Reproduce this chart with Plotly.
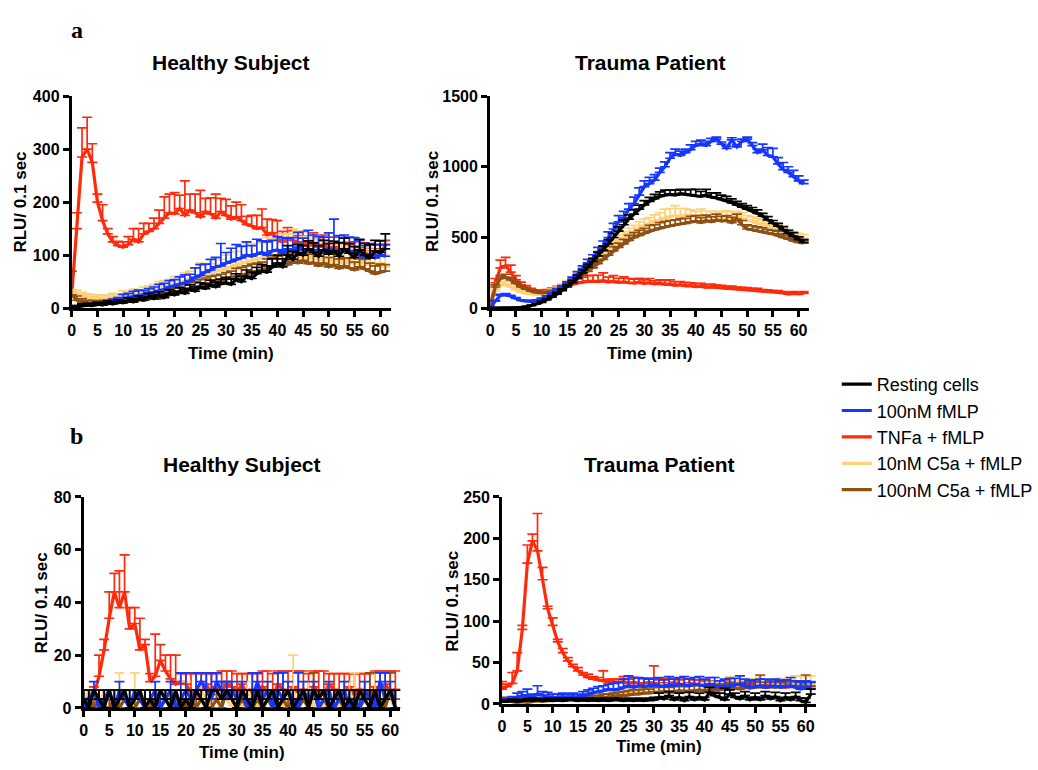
import plotly.graph_objects as go

# ---------------------------------------------------------------- data
TIME = [0, 1, 2, 3, 4, 5, 6, 7, 8, 9,
        10, 11, 12, 13, 14, 15, 16, 17, 18, 19,
        20, 21, 22, 23, 24, 25, 26, 27, 28, 29,
        30, 31, 32, 33, 34, 35, 36, 37, 38, 39,
        40, 41, 42, 43, 44, 45, 46, 47, 48, 49,
        50, 51, 52, 53, 54, 55, 56, 57, 58, 59,
        60, 61]

SERIES_NAMES = ["Resting cells", "100nM fMLP", "TNFa + fMLP", "10nM C5a + fMLP", "100nM C5a + fMLP"]

# ---- (a) Healthy subject, RLU / 0.1 sec
a_healthy_rest = [0, 3, 5, 6, 5, 8, 6, 10, 8, 12,
                  10, 14, 12, 18, 15, 22, 18, 25, 20, 28,
                  25, 32, 28, 36, 32, 40, 37, 44, 40, 46,
                  48, 45, 55, 50, 60, 56, 65, 70, 68, 78,
                  85, 78, 100, 92, 105, 100, 112, 105, 98, 110,
                  102, 108, 98, 112, 104, 96, 110, 100, 95, 108,
                  105, 112]
a_healthy_rest_err = [2, 2, 3, 3, 3, 3, 3, 4, 4, 4,
                      4, 5, 5, 5, 5, 6, 6, 6, 6, 7,
                      7, 7, 8, 8, 8, 8, 9, 9, 9, 9,
                      10, 10, 10, 10, 12, 12, 12, 12, 12, 15,
                      15, 15, 18, 15, 15, 18, 15, 18, 20, 18,
                      20, 18, 25, 20, 18, 20, 20, 22, 25, 20,
                      22, 28]
a_healthy_fmlp = [2, 3, 4, 5, 6, 7, 8, 10, 12, 14,
                  18, 20, 22, 24, 25, 27, 30, 33, 35, 40,
                  42, 45, 48, 52, 58, 62, 68, 72, 78, 80,
                  85, 88, 92, 95, 100, 98, 102, 105, 100, 108,
                  110, 105, 112, 108, 115, 110, 112, 108, 110, 106,
                  112, 108, 105, 110, 104, 108, 100, 96, 102, 95,
                  100, 98]
a_healthy_fmlp_err = [2, 2, 3, 3, 3, 4, 4, 5, 5, 6,
                      8, 8, 10, 10, 8, 10, 10, 12, 12, 12,
                      12, 14, 15, 12, 18, 20, 15, 20, 18, 42,
                      20, 25, 28, 22, 25, 20, 28, 22, 25, 20,
                      25, 28, 20, 25, 28, 22, 35, 30, 25, 28,
                      30, 60, 32, 28, 30, 25, 28, 22, 20, 25,
                      20, 22]
a_healthy_tnf = [25, 150, 285, 300, 275, 200, 165, 140, 125, 118,
                 115, 120, 130, 125, 140, 145, 150, 160, 170, 180,
                 178, 188, 175, 185, 180, 172, 182, 178, 170, 182,
                 175, 168, 172, 165, 158, 155, 150, 152, 138, 142,
                 130, 125, 132, 128, 122, 125, 118, 122, 115, 120,
                 112, 116, 108, 112, 105, 110, 102, 108, 95, 110,
                 100, 120]
a_healthy_tnf_err = [5, 30, 55, 60, 35, 15, 30, 10, 10, 8,
                     10, 15, 20, 25, 20, 15, 20, 25, 40, 35,
                     40, 25, 65, 30, 35, 50, 25, 30, 45, 25,
                     30, 25, 28, 30, 15, 20, 25, 35, 30, 25,
                     35, 20, 20, 18, 15, 20, 18, 20, 15, 18,
                     15, 18, 15, 12, 15, 15, 12, 15, 18, 10,
                     12, 8]
a_healthy_c5a10 = [30, 28, 25, 22, 20, 20, 18, 20, 22, 20,
                   25, 22, 28, 25, 30, 32, 35, 38, 40, 42,
                   45, 48, 52, 55, 58, 60, 62, 66, 70, 72,
                   75, 78, 82, 85, 88, 90, 92, 95, 98, 100,
                   98, 102, 100, 104, 98, 95, 100, 92, 96, 90,
                   94, 88, 92, 85, 90, 84, 88, 82, 86, 80,
                   85, 78]
a_healthy_c5a10_err = [5, 6, 5, 5, 6, 5, 6, 5, 6, 6,
                       8, 8, 8, 10, 10, 10, 10, 12, 12, 12,
                       15, 12, 15, 15, 18, 25, 20, 18, 22, 20,
                       25, 28, 25, 30, 35, 32, 30, 28, 35, 30,
                       35, 38, 40, 45, 48, 40, 35, 38, 30, 35,
                       30, 32, 28, 30, 25, 28, 30, 25, 28, 30,
                       25, 22]
a_healthy_c5a100 = [25, 15, 12, 10, 10, 8, 10, 8, 12, 10,
                    12, 14, 12, 16, 15, 18, 20, 18, 22, 25,
                    28, 30, 35, 38, 40, 42, 45, 48, 50, 52,
                    55, 58, 60, 62, 65, 68, 70, 72, 75, 78,
                    80, 85, 82, 88, 85, 90, 84, 86, 80, 85,
                    78, 82, 75, 80, 76, 72, 78, 74, 70, 65,
                    68, 70]
a_healthy_c5a100_err = [45, 8, 6, 5, 5, 5, 5, 5, 5, 5,
                        5, 6, 6, 6, 6, 8, 8, 8, 8, 8,
                        10, 10, 10, 10, 10, 12, 12, 12, 12, 12,
                        12, 12, 15, 15, 15, 15, 15, 15, 18, 18,
                        18, 18, 20, 18, 20, 20, 18, 20, 18, 20,
                        18, 20, 18, 15, 18, 15, 15, 18, 15, 15,
                        15, 12]

# ---- (a) Trauma patient
a_trauma_rest = [0, 0, 2, 3, 3, 4, 5, 10, 18, 30,
                 42, 58, 78, 100, 125, 150, 180, 215, 250, 290,
                 330, 370, 410, 455, 500, 545, 590, 630, 665, 700,
                 730, 755, 775, 790, 800, 805, 800, 810, 805, 800,
                 795, 790, 800, 785, 780, 770, 760, 745, 730, 715,
                 700, 690, 670, 650, 625, 600, 580, 555, 530, 510,
                 485, 465]
a_trauma_rest_err = [2, 2, 2, 2, 2, 2, 3, 3, 4, 5,
                     6, 8, 10, 12, 12, 15, 15, 18, 20, 20,
                     22, 25, 28, 30, 30, 30, 32, 30, 30, 28,
                     30, 28, 30, 32, 35, 30, 35, 30, 32, 40,
                     45, 35, 40, 30, 35, 30, 30, 28, 25, 25,
                     25, 22, 25, 20, 22, 20, 20, 22, 20, 25,
                     20, 20]
a_trauma_fmlp = [0, 50, 90, 95, 85, 70, 55, 50, 48, 55,
                 65, 80, 100, 125, 150, 175, 205, 240, 280, 320,
                 350, 400, 440, 500, 560, 610, 640, 700, 740, 800,
                 860, 880, 905, 960, 1000, 1060, 1090, 1080, 1100, 1120,
                 1150, 1160, 1150, 1180, 1195, 1160, 1130, 1190, 1140, 1180,
                 1195, 1150, 1100, 1120, 1080, 1070, 1020, 980, 960, 930,
                 900, 880]
a_trauma_fmlp_err = [2, 5, 8, 8, 6, 5, 5, 5, 5, 5,
                     6, 8, 8, 10, 10, 12, 15, 18, 20, 25,
                     28, 30, 35, 40, 40, 45, 45, 40, 45, 50,
                     40, 45, 40, 30, 35, 40, 35, 30, 25, 35,
                     30, 28, 25, 20, 15, 15, 15, 15, 15, 15,
                     15, 20, 25, 40, 55, 60, 45, 50, 40, 45,
                     35, 25]
a_trauma_tnf = [10, 180, 285, 300, 255, 200, 165, 145, 130, 120,
                118, 122, 130, 140, 150, 160, 170, 178, 185, 190,
                192, 188, 195, 185, 190, 182, 186, 180, 178, 182,
                176, 180, 172, 175, 168, 170, 162, 166, 158, 160,
                152, 155, 148, 150, 145, 142, 140, 138, 135, 132,
                130, 128, 125, 120, 118, 115, 112, 108, 100, 105,
                102, 105]
a_trauma_tnf_err = [5, 30, 55, 60, 50, 30, 20, 15, 10, 10,
                    10, 10, 12, 15, 15, 20, 25, 30, 35, 40,
                    40, 45, 55, 35, 40, 30, 35, 30, 28, 30,
                    25, 30, 22, 25, 28, 30, 25, 22, 25, 20,
                    22, 20, 18, 20, 18, 20, 15, 18, 15, 15,
                    15, 12, 15, 12, 12, 10, 12, 10, 10, 12,
                    10, 12]
a_trauma_c5a10 = [0, 120, 160, 170, 150, 130, 115, 105, 100, 98,
                  100, 110, 125, 140, 160, 180, 205, 230, 260, 290,
                  320, 350, 385, 420, 450, 480, 500, 525, 545, 565,
                  585, 600, 615, 625, 640, 650, 655, 650, 660, 655,
                  650, 660, 650, 645, 650, 640, 645, 640, 650, 635,
                  620, 615, 600, 595, 580, 570, 560, 545, 530, 515,
                  505, 495]
a_trauma_c5a10_err = [2, 15, 20, 20, 15, 10, 8, 8, 6, 6,
                      6, 8, 10, 10, 12, 15, 18, 20, 22, 25,
                      28, 30, 32, 35, 38, 40, 40, 42, 40, 45,
                      45, 40, 45, 50, 60, 55, 70, 55, 45, 40,
                      35, 40, 35, 40, 35, 40, 45, 40, 35, 40,
                      35, 30, 35, 30, 30, 28, 30, 25, 28, 25,
                      25, 25]
a_trauma_c5a100 = [0, 150, 210, 220, 200, 175, 150, 135, 120, 112,
                   108, 110, 118, 130, 145, 165, 185, 210, 235, 260,
                   285, 315, 345, 375, 405, 430, 455, 480, 500, 515,
                   530, 545, 555, 565, 575, 580, 590, 595, 600, 610,
                   615, 605, 620, 610, 625, 615, 620, 605, 630, 590,
                   560, 555, 545, 540, 530, 525, 515, 500, 490, 475,
                   465, 460]
a_trauma_c5a100_err = [2, 15, 20, 20, 15, 12, 10, 8, 8, 8,
                       8, 8, 8, 10, 10, 12, 15, 15, 18, 20,
                       22, 25, 25, 28, 30, 30, 32, 35, 35, 35,
                       35, 40, 35, 40, 38, 40, 35, 38, 35, 40,
                       40, 35, 38, 35, 40, 35, 35, 38, 35, 30,
                       30, 28, 30, 28, 25, 25, 28, 25, 25, 25,
                       22, 20]

# ---- (b) Healthy subject
b_healthy_rest = [3.3, 0, 6.7, 3.3, 0, 6.7, 0, 3.3, 6.7, 0,
                  3.3, 6.7, 0, 3.3, 0, 6.7, 3.3, 0, 6.7, 0,
                  3.3, 0, 6.7, 3.3, 0, 6.7, 6.7, 3.3, 6.7, 3.3,
                  0, 6.7, 3.3, 0, 6.7, 0, 3.3, 6.7, 0, 3.3,
                  6.7, 0, 3.3, 6.7, 0, 6.7, 3.3, 6.7, 0, 3.3,
                  6.7, 0, 3.3, 0, 6.7, 3.3, 0, 6.7, 0, 3.3,
                  6.7, 0]
b_healthy_rest_err = [3.4, 6.7, 0, 3.4, 6.7, 0, 6.7, 3.4, 0, 6.7,
                      3.4, 0, 6.7, 3.4, 6.7, 0, 3.4, 6.7, 0, 6.7,
                      3.4, 6.7, 0, 3.4, 6.7, 0, 0, 3.4, 0, 3.4,
                      6.7, 0, 3.4, 6.7, 0, 6.7, 3.4, 0, 6.7, 3.4,
                      0, 6.7, 3.4, 0, 6.7, 0, 3.4, 0, 6.7, 3.4,
                      0, 6.7, 3.4, 6.7, 0, 3.4, 6.7, 0, 6.7, 3.4,
                      0, 6.7]
b_healthy_fmlp = [0, 3.3, 6.7, 0, 3.3, 6.7, 0, 6.7, 3.3, 0,
                  6.7, 3.3, 0, 3.3, 6.7, 0, 3.3, 6.7, 0, 3.3,
                  6.7, 3.3, 6.7, 10, 6.7, 3.3, 10, 6.7, 3.3, 6.7,
                  3.3, 6.7, 0, 3.3, 10, 3.3, 6.7, 0, 6.7, 3.3,
                  6.7, 3.3, 0, 6.7, 3.3, 6.7, 0, 3.3, 6.7, 0,
                  3.3, 6.7, 0, 3.3, 0, 6.7, 3.3, 0, 10, 3.3,
                  6.7, 0]
b_healthy_fmlp_err = [6.7, 3.4, 3.3, 6.7, 3.4, 0, 6.7, 3.3, 3.4, 6.7,
                      0, 3.4, 6.7, 3.4, 3.3, 6.7, 3.4, 3.3, 6.7, 10,
                      6.6, 3.4, 6.6, 3.3, 6.6, 10, 3.3, 3.3, 6.7, 3.3,
                      3.4, 3.3, 6.7, 10, 3.3, 3.4, 3.3, 6.7, 6.6, 10,
                      3.3, 3.4, 13.3, 3.3, 3.4, 3.3, 6.7, 3.4, 3.3, 6.7,
                      3.4, 3.3, 6.7, 3.4, 6.7, 3.3, 3.4, 6.7, 3.3, 10,
                      3.3, 6.7]
b_healthy_tnf = [0, 2, 5, 12, 22, 34, 44, 38, 44, 30,
                 32, 22, 24, 10, 12, 18, 14, 11, 9, 10,
                 9, 6, 4, 7, 9, 5, 8, 7, 9, 8,
                 6, 9, 5, 7, 3, 8, 6, 4, 9, 7,
                 5, 8, 6, 7, 4, 8, 6, 5, 9, 7,
                 4, 6, 8, 5, 7, 6, 3, 8, 7, 9,
                 6, 7]
b_healthy_tnf_err = [1, 2, 3, 8, 4, 10, 7, 14, 14, 8,
                     6, 12, 2, 3, 16, 6, 6, 9, 11, 3,
                     4, 7, 9, 6, 4, 8, 5, 7, 5, 6,
                     7, 4, 8, 6, 10, 6, 8, 9, 5, 7,
                     9, 6, 8, 7, 9, 6, 8, 9, 4, 6,
                     9, 7, 5, 8, 6, 7, 10, 6, 7, 5,
                     8, 7]
b_healthy_c5a10 = [3.3, 6.7, 3.3, 0, 6.7, 3.3, 0, 3.3, 6.7, 0,
                   3.3, 6.7, 3.3, 0, 3.3, 0, 6.7, 3.3, 0, 3.3,
                   6.7, 3.3, 0, 6.7, 3.3, 0, 3.3, 6.7, 3.3, 0,
                   3.3, 0, 6.7, 3.3, 0, 3.3, 6.7, 0, 3.3, 0,
                   3.3, 6.7, 0, 3.3, 6.7, 0, 3.3, 0, 6.7, 3.3,
                   0, 3.3, 6.7, 0, 3.3, 6.7, 0, 3.3, 0, 6.7,
                   3.3, 0]
b_healthy_c5a10_err = [3.4, 0, 3.4, 3.3, 0, 3.4, 3.3, 10, 0, 3.3,
                       10, 0, 3.4, 3.3, 3.4, 3.3, 0, 3.4, 3.3, 3.4,
                       3.3, 3.4, 3.3, 6.6, 3.4, 3.3, 3.4, 3.3, 3.4, 6.7,
                       3.4, 3.3, 3.3, 3.4, 6.7, 3.4, 3.3, 3.3, 3.4, 6.7,
                       3.4, 13.3, 3.3, 3.4, 3.3, 6.7, 3.4, 3.3, 3.3, 3.4,
                       3.3, 3.4, 3.3, 13.3, 3.4, 0, 6.7, 10, 3.3, 6.6,
                       3.4, 6.7]
b_healthy_c5a100 = [0, 3.3, 0, 3.3, 0, 0, 3.3, 0, 3.3, 0,
                    0, 3.3, 0, 0, 3.3, 0, 3.3, 0, 0, 3.3,
                    0, 3.3, 0, 3.3, 0, 0, 3.3, 0, 6.7, 3.3,
                    0, 3.3, 0, 0, 3.3, 0, 3.3, 0, 0, 3.3,
                    0, 3.3, 0, 3.3, 0, 6.7, 0, 3.3, 0, 0,
                    3.3, 0, 3.3, 0, 0, 3.3, 6.7, 0, 3.3, 0,
                    6.7, 3.3]
b_healthy_c5a100_err = [3.3, 3.4, 3.3, 3.4, 3.3, 3.3, 3.4, 3.3, 3.4, 3.3,
                        3.3, 3.4, 3.3, 3.3, 3.4, 3.3, 3.4, 3.3, 3.3, 3.4,
                        3.3, 3.4, 3.3, 3.4, 3.3, 3.3, 3.4, 3.3, 3.3, 3.4,
                        3.3, 3.4, 3.3, 3.3, 3.4, 3.3, 3.4, 3.3, 3.3, 3.4,
                        3.3, 3.4, 3.3, 3.4, 3.3, 6.6, 3.3, 3.4, 3.3, 3.3,
                        3.4, 3.3, 3.4, 3.3, 3.3, 3.4, 6.6, 3.3, 3.4, 3.3,
                        6.6, 3.4]

# ---- (b) Trauma patient
b_trauma_rest = [3, 3, 4, 3, 4, 5, 4, 5, 4, 5,
                 4, 5, 4, 5, 5, 4, 5, 4, 5, 4,
                 5, 4, 5, 5, 4, 5, 4, 5, 4, 5,
                 5, 8, 6, 10, 5, 8, 4, 9, 5, 8,
                 5, 14, 10, 8, 5, 12, 8, 6, 10, 5,
                 8, 5, 10, 6, 9, 4, 8, 5, 9, 4,
                 2, 12]
b_trauma_rest_err = [2, 2, 2, 2, 2, 2, 2, 2, 2, 2,
                     2, 2, 2, 2, 2, 2, 2, 2, 2, 2,
                     2, 2, 2, 2, 2, 2, 2, 2, 2, 2,
                     3, 5, 3, 5, 3, 5, 3, 5, 3, 5,
                     3, 6, 4, 5, 14, 5, 5, 3, 5, 3,
                     5, 3, 5, 3, 5, 3, 5, 3, 5, 3,
                     5, 6]
b_trauma_fmlp = [3, 4, 5, 8, 10, 10, 8, 12, 10, 9,
                 8, 8, 9, 8, 9, 8, 10, 12, 14, 15,
                 16, 18, 17, 18, 20, 22, 20, 22, 21, 22,
                 23, 22, 21, 23, 22, 24, 23, 22, 24, 23,
                 22, 24, 22, 20, 22, 21, 23, 24, 22, 20,
                 21, 22, 20, 21, 22, 20, 21, 22, 20, 18,
                 20, 18]
b_trauma_fmlp_err = [2, 3, 4, 5, 5, 8, 4, 10, 5, 5,
                     4, 4, 4, 4, 4, 4, 5, 5, 5, 6,
                     6, 6, 8, 8, 10, 12, 12, 10, 10, 8,
                     8, 10, 8, 10, 8, 8, 10, 8, 8, 10,
                     8, 8, 10, 8, 8, 10, 8, 10, 8, 8,
                     8, 8, 10, 8, 8, 8, 8, 10, 8, 8,
                     8, 8]
b_trauma_tnf = [18, 21, 25, 40, 90, 170, 197, 185, 150, 115,
                95, 75, 62, 52, 45, 40, 35, 32, 30, 29,
                28, 27, 27, 26, 27, 25, 26, 25, 24, 26,
                25, 24, 25, 24, 26, 23, 24, 25, 23, 24,
                23, 24, 22, 23, 24, 22, 23, 21, 22, 23,
                22, 21, 23, 22, 21, 22, 20, 21, 22, 20,
                21, 22]
b_trauma_tnf_err = [9, 3, 13, 22, 5, 22, 8, 45, 15, 3,
                    9, 3, 5, 4, 3, 4, 3, 4, 3, 3,
                    12, 3, 3, 4, 6, 5, 6, 6, 7, 5,
                    21, 5, 6, 6, 5, 6, 6, 5, 6, 5,
                    5, 4, 5, 4, 4, 5, 4, 6, 5, 4,
                    5, 6, 4, 5, 5, 4, 5, 4, 5, 5,
                    5, 4]
b_trauma_c5a10 = [5, 4, 3, 2, 2, 3, 4, 4, 5, 5,
                  5, 6, 5, 6, 7, 6, 7, 8, 8, 9,
                  8, 9, 10, 12, 12, 14, 12, 15, 14, 15,
                  14, 15, 16, 15, 14, 16, 15, 16, 15, 17,
                  16, 18, 17, 18, 19, 18, 20, 19, 21, 20,
                  21, 22, 20, 21, 22, 23, 21, 22, 24, 23,
                  22, 24]
b_trauma_c5a10_err = [3, 2, 2, 2, 2, 2, 2, 2, 3, 3,
                      3, 3, 3, 3, 3, 3, 4, 4, 4, 4,
                      4, 4, 5, 5, 5, 6, 6, 6, 6, 8,
                      8, 8, 8, 8, 8, 8, 8, 8, 8, 8,
                      8, 8, 10, 8, 8, 15, 8, 8, 8, 8,
                      10, 12, 8, 8, 8, 8, 8, 8, 10, 10,
                      12, 10]
b_trauma_c5a100 = [6, 4, 3, 2, 3, 2, 3, 4, 3, 4,
                   4, 5, 4, 5, 6, 5, 6, 6, 7, 7,
                   8, 8, 9, 10, 10, 11, 12, 12, 13, 13,
                   14, 14, 15, 14, 15, 16, 15, 16, 16, 17,
                   16, 17, 18, 17, 18, 18, 19, 18, 20, 19,
                   20, 21, 20, 21, 20, 22, 21, 22, 21, 22,
                   22, 21]
b_trauma_c5a100_err = [2, 2, 2, 2, 2, 2, 2, 2, 2, 2,
                       2, 2, 3, 3, 3, 3, 3, 3, 3, 3,
                       4, 4, 4, 4, 5, 5, 5, 5, 5, 5,
                       6, 6, 6, 6, 6, 6, 6, 6, 6, 6,
                       6, 6, 6, 6, 6, 8, 6, 6, 6, 6,
                       6, 14, 6, 6, 6, 6, 6, 6, 6, 6,
                       13, 6]

# axis tick values per panel
X_TICKS = [0, 5, 10, 15, 20, 25, 30, 35, 40, 45, 50, 55, 60]
Y_TICKS_A_HEALTHY = [0, 100, 200, 300, 400]
Y_TICKS_A_TRAUMA = [0, 500, 1000, 1500]
Y_TICKS_B_HEALTHY = [0, 20, 40, 60, 80]
Y_TICKS_B_TRAUMA = [0, 50, 100, 150, 200, 250]

# ---------------------------------------------------------------- styling
W, H = 1038, 770
FONT = "Liberation Sans, Arial, sans-serif"
COLORS = {
    "Resting cells": "#000000",
    "100nM fMLP": "#1436ff",
    "TNFa + fMLP": "#ff2a0a",
    "10nM C5a + fMLP": "#ffd27a",
    "100nM C5a + fMLP": "#8e4f12",
}
# drawing order (last is on top)
DRAW_ORDER = ["TNFa + fMLP", "10nM C5a + fMLP", "100nM C5a + fMLP", "100nM fMLP", "Resting cells"]

panels = [
    dict(ax="", data={
        "Resting cells": (a_healthy_rest, a_healthy_rest_err),
        "100nM fMLP": (a_healthy_fmlp, a_healthy_fmlp_err),
        "TNFa + fMLP": (a_healthy_tnf, a_healthy_tnf_err),
        "10nM C5a + fMLP": (a_healthy_c5a10, a_healthy_c5a10_err),
        "100nM C5a + fMLP": (a_healthy_c5a100, a_healthy_c5a100_err)},
        xpx=(68, 388), ypx=(307, 90), yticks=Y_TICKS_A_HEALTHY),
    dict(ax="2", data={
        "Resting cells": (a_trauma_rest, a_trauma_rest_err),
        "100nM fMLP": (a_trauma_fmlp, a_trauma_fmlp_err),
        "TNFa + fMLP": (a_trauma_tnf, a_trauma_tnf_err),
        "10nM C5a + fMLP": (a_trauma_c5a10, a_trauma_c5a10_err),
        "100nM C5a + fMLP": (a_trauma_c5a100, a_trauma_c5a100_err)},
        xpx=(488, 808), ypx=(307, 90), yticks=Y_TICKS_A_TRAUMA),
    dict(ax="3", data={
        "Resting cells": (b_healthy_rest, b_healthy_rest_err),
        "100nM fMLP": (b_healthy_fmlp, b_healthy_fmlp_err),
        "TNFa + fMLP": (b_healthy_tnf, b_healthy_tnf_err),
        "10nM C5a + fMLP": (b_healthy_c5a10, b_healthy_c5a10_err),
        "100nM C5a + fMLP": (b_healthy_c5a100, b_healthy_c5a100_err)},
        xpx=(80, 398), ypx=(715.7, 500), yticks=Y_TICKS_B_HEALTHY),
    dict(ax="4", data={
        "Resting cells": (b_trauma_rest, b_trauma_rest_err),
        "100nM fMLP": (b_trauma_fmlp, b_trauma_fmlp_err),
        "TNFa + fMLP": (b_trauma_tnf, b_trauma_tnf_err),
        "10nM C5a + fMLP": (b_trauma_c5a10, b_trauma_c5a10_err),
        "100nM C5a + fMLP": (b_trauma_c5a100, b_trauma_c5a100_err)},
        xpx=(500, 815), ypx=(711.7, 500), yticks=Y_TICKS_B_TRAUMA),
]

fig = go.Figure()

for i, p in enumerate(panels):
    for name in DRAW_ORDER:
        vals, errs = p["data"][name]
        fig.add_trace(go.Scatter(
            x=TIME, y=vals, mode="lines", name=name,
            line=dict(color=COLORS[name], width=3.2),
            error_y=dict(type="data", symmetric=False, array=errs,
                         arrayminus=[0] * len(errs),
                         color=COLORS[name], thickness=1.7, width=5),
            xaxis="x" + p["ax"], yaxis="y" + p["ax"],
            showlegend=(i == 0), legendgroup=name,
            legendrank=SERIES_NAMES.index(name) + 1,
            hoverinfo="skip",
        ))

axis_common = dict(
    showline=True, linewidth=3, linecolor="black",
    ticks="outside", ticklen=6, tickwidth=2.5, tickcolor="black",
    tickfont=dict(family=FONT, size=16, color="black", weight="bold"),
    showgrid=False, zeroline=False, fixedrange=True,
)

layout_axes = {}
for p in panels:
    x0, x1 = p["xpx"]
    yb, yt = p["ypx"]
    yt_vals = p["yticks"]
    layout_axes["xaxis" + p["ax"]] = dict(
        axis_common, domain=[x0 / W, x1 / W], range=[0, 62],
        tickvals=X_TICKS, anchor="y" + p["ax"])
    layout_axes["yaxis" + p["ax"]] = dict(
        axis_common, domain=[1 - yb / H, 1 - yt / H],
        range=[0, yt_vals[-1]], tickvals=yt_vals, anchor="x" + p["ax"])

fig.update_layout(**layout_axes)


def ann(text, xpx, ypx, size, angle=0, family=FONT, bold=True):
    return dict(text=text, x=xpx / W, y=1 - ypx / H, xref="paper", yref="paper",
                xanchor="center", yanchor="middle", showarrow=False, textangle=angle,
                font=dict(family=family, size=size, color="black",
                          weight="bold" if bold else "normal"))


SERIF = "Liberation Serif, Times New Roman, serif"
annotations = [
    ann("a", 73, 22, 24, family=SERIF),
    ann("b", 73, 438, 24, family=SERIF),
    ann("Healthy Subject", 228, 56, 21),
    ann("Trauma Patient", 649, 56, 21),
    ann("Healthy Subject", 239, 467, 21),
    ann("Trauma Patient", 658, 467, 21),
    ann("Time (min)", 228, 353, 17),
    ann("Time (min)", 648, 353, 17),
    ann("Time (min)", 239, 761, 17),
    ann("Time (min)", 658, 755, 17),
    ann("RLU/ 0.1 sec", 17, 198, 17, angle=-90),
    ann("RLU/ 0.1 sec", 430, 198, 17, angle=-90),
    ann("RLU/ 0.1 sec", 38, 608, 17, angle=-90),
    ann("RLU/ 0.1 sec", 450, 607, 17, angle=-90),
]

fig.update_layout(
    width=W, height=H, autosize=False,
    margin=dict(l=0, r=0, t=0, b=0),
    paper_bgcolor="white", plot_bgcolor="white",
    font=dict(family=FONT, color="black"),
    annotations=annotations,
    showlegend=True,
    legend=dict(x=836 / W, y=1 - 366 / H, xanchor="left", yanchor="top",
                font=dict(family=FONT, size=18, color="black"),
                bgcolor="rgba(0,0,0,0)", tracegroupgap=0,
                itemclick=False, itemdoubleclick=False),
)

fig.write_html("out.html")
